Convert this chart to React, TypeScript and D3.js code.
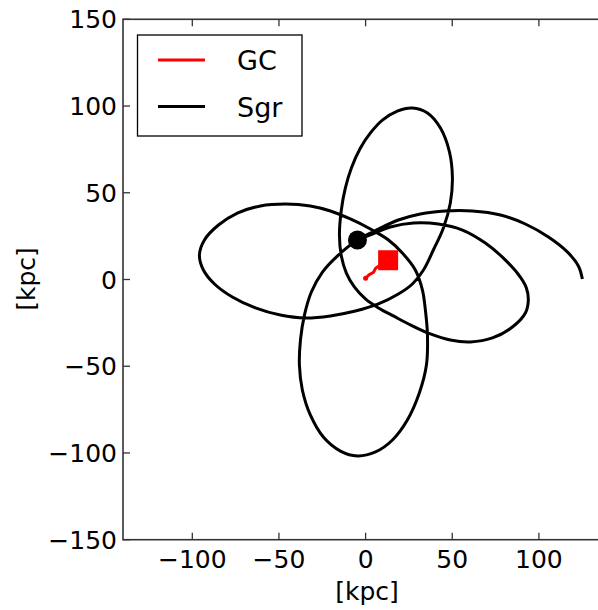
import React from "react";
import * as d3 from "d3";

// Sgr orbit trace (kpc), in time order, ending at Sgr's present position
const sgrX = [125.1, 122.8, 116.4, 105.5, 92.2, 77.8, 61.6, 46.0, 31.6, 18.9, 7.4, -4.7, -15.7, -24.9, -31.3, -35.3, -37.6, -38.2, -36.5, -31.9, -24.4, -14.5, -4.7, 5.7, 15.5, 24.1, 31.0, 35.1, 35.7, 34.5, 32.8, 28.7, 21.2, 13.2, 2.8, -8.8, -20.3, -31.9, -46.3, -60.7, -74.0, -84.9, -93.0, -95.9, -93.6, -87.2, -76.9, -63.6, -49.2, -34.7, -20.3, -5.9, 7.4, 18.9, 27.0, 33.4, 39.1, 44.9, 48.9, 50.1, 48.4, 43.2, 35.7, 27.0, 18.3, 9.7, 2.8, -3.0, -8.2, -11.7, -14.0, -15.1, -14.0, -11.1, -6.5, -0.1, 7.4, 16.0, 25.9, 37.4, 48.9, 60.5, 73.2, 84.7, 92.2, 93.9, 92.8, 89.3, 80.7, 69.1, 55.9, 42.0, 27.6, 14.3, 3.9, -4.7];
const sgrY = [0.3, 7.8, 15.9, 24.5, 32.0, 37.2, 39.5, 39.5, 37.8, 34.3, 29.1, 22.8, 14.1, 4.3, -7.2, -20.5, -34.9, -49.3, -63.7, -78.1, -90.8, -98.9, -101.7, -99.4, -92.5, -81.0, -65.4, -49.3, -32.0, -17.6, -6.1, 5.5, 15.3, 22.8, 29.1, 34.9, 39.5, 42.4, 43.5, 42.4, 38.3, 31.4, 22.8, 14.1, 5.5, -2.6, -10.1, -16.4, -20.5, -22.2, -21.0, -18.2, -14.1, -8.4, -2.6, 5.5, 17.0, 29.7, 44.1, 58.5, 73.5, 87.3, 96.0, 98.9, 97.1, 91.9, 84.5, 75.8, 64.3, 52.7, 40.1, 25.7, 13.5, 3.7, -4.3, -11.2, -16.4, -21.0, -26.2, -31.4, -34.9, -36.0, -33.7, -27.4, -19.3, -11.8, -4.9, 1.4, 11.2, 21.0, 28.5, 32.0, 32.6, 30.3, 26.2, 22.8];

// Galactic centre trace (kpc)
const gcX = [0, 1.7, 4.6, 5.8, 7.5, 10.4, 13.0];
const gcY = [0.7, 2.5, 4.2, 6.5, 7.7, 8.8, 11.1];

const xTicks = [-100, -50, 0, 50, 100];
const yTicks = [-150, -100, -50, 0, 50, 100, 150];
const legendLabels = ["GC", "Sgr"];
const legendColors = ["#ff0000", "#000000"];

const W = 598;
const H = 610;
const FONT = "DejaVu Sans";

export default function App() {
  const x = d3.scaleLinear().domain([-140, 140]).range([123, 608.2]);
  const y = d3.scaleLinear().domain([-150, 150]).range([539.7, 19.3]);
  const [x0, x1] = x.range();
  const [yb, yt] = y.range();

  const line = d3
    .line<[number, number]>()
    .x((d) => x(d[0]))
    .y((d) => y(d[1]))
    .curve(d3.curveCatmullRom.alpha(0.5));

  const sgrPts: [number, number][] = sgrX.map((v, i) => [v, sgrY[i]]);
  const gcPts: [number, number][] = gcX.map((v, i) => [v, gcY[i]]);
  const gcLine = d3
    .line<[number, number]>()
    .x((d) => x(d[0]))
    .y((d) => y(d[1]));

  const lastS = sgrPts[sgrPts.length - 1];
  const lastG = gcPts[gcPts.length - 1];
  const fmt = (v: number) => (v < 0 ? "\u2212" + Math.abs(v) : String(v));
  const tickLen = 7;
  const axisColor = "#333";

  return (
    <svg
      width={W}
      height={H}
      style={{ position: "absolute", left: 0, top: 0, background: "#fff" }}
      fontFamily={FONT}
    >
      <defs>
        <clipPath id="plot">
          <rect x={x0} y={yt} width={x1 - x0} height={yb - yt} />
        </clipPath>
      </defs>
      <g clipPath="url(#plot)">
        <path d={line(sgrPts) || ""} fill="none" stroke="#000" strokeWidth={3} strokeLinejoin="round" />
        <circle cx={x(lastS[0])} cy={y(lastS[1])} r={9.5} fill="#000" />
        <path d={gcLine(gcPts) || ""} fill="none" stroke="#ff0000" strokeWidth={3} strokeLinejoin="round" strokeLinecap="round" />
        <circle cx={x(gcPts[0][0])} cy={y(gcPts[0][1])} r={2.5} fill="#ff0000" />
        <rect x={x(lastG[0]) - 10} y={y(lastG[1]) - 10} width={20} height={20} fill="#ff0000" />
      </g>
      {/* spines */}
      <rect x={x0} y={yt} width={x1 - x0} height={yb - yt} fill="none" stroke={axisColor} strokeWidth={1.6} />
      {/* ticks */}
      {xTicks.map((t) => (
        <g key={"xt" + t}>
          <line x1={x(t)} x2={x(t)} y1={yb} y2={yb - tickLen} stroke={axisColor} strokeWidth={1.3} />
          <line x1={x(t)} x2={x(t)} y1={yt} y2={yt + tickLen} stroke={axisColor} strokeWidth={1.3} />
          <text x={x(t)} y={568} textAnchor="middle" fontSize={25} fill="#000">
            {fmt(t)}
          </text>
        </g>
      ))}
      {yTicks.map((t) => (
        <g key={"yt" + t}>
          <line x1={x0} x2={x0 + tickLen} y1={y(t)} y2={y(t)} stroke={axisColor} strokeWidth={1.3} />
          <line x1={x1} x2={x1 - tickLen} y1={y(t)} y2={y(t)} stroke={axisColor} strokeWidth={1.3} />
          <text x={117} y={y(t)} dy="0.36em" textAnchor="end" fontSize={25} fill="#000">
            {fmt(t)}
          </text>
        </g>
      ))}
      {/* axis labels */}
      <text x={367} y={600} textAnchor="middle" fontSize={25} fill="#000">
        [kpc]
      </text>
      <text transform="translate(35,279) rotate(-90)" textAnchor="middle" fontSize={25} fill="#000">
        [kpc]
      </text>
      {/* legend */}
      <rect x={137.5} y={35} width={164.5} height={101} fill="#fff" stroke="#000" strokeWidth={1.3} />
      {legendLabels.map((lab, i) => (
        <g key={lab}>
          <line x1={158} x2={205} y1={60 + i * 46.5} y2={60 + i * 46.5} stroke={legendColors[i]} strokeWidth={3} />
          <text x={237} y={70 + i * 46.5} fontSize={27} fill="#000">
            {lab}
          </text>
        </g>
      ))}
    </svg>
  );
}
